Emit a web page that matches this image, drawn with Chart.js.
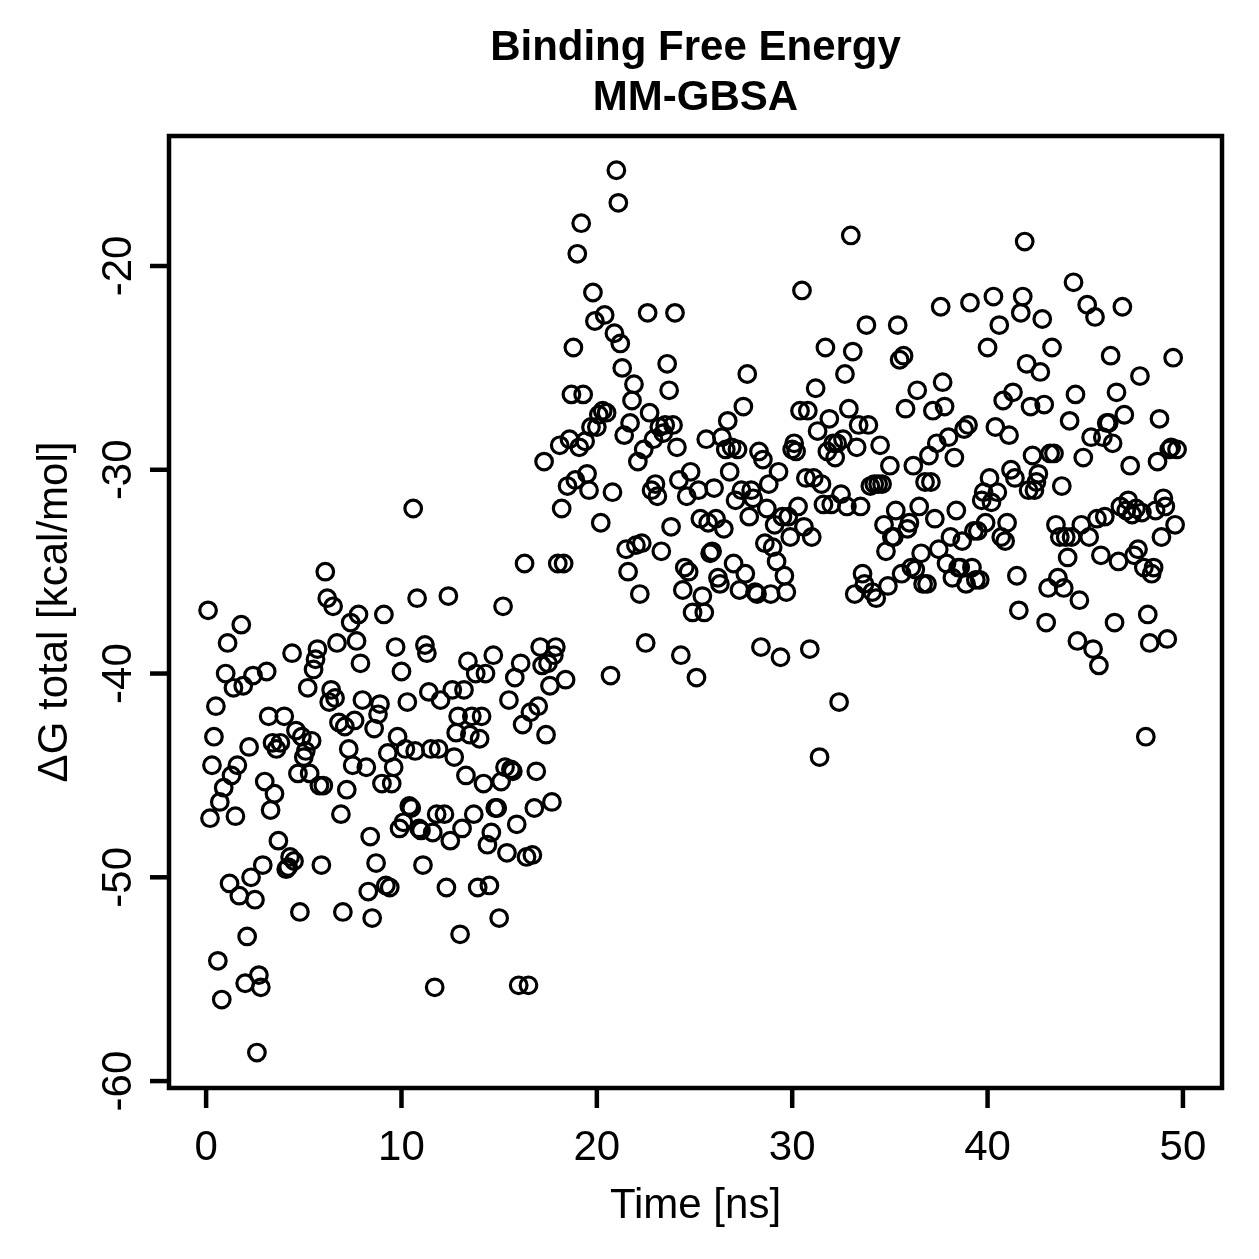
<!DOCTYPE html>
<html>
<head>
<meta charset="utf-8">
<script src="https://cdn.jsdelivr.net/npm/chart.js@4/dist/chart.umd.min.js"></script>
<style>
  html, body { margin: 0; padding: 0; background: #fff; }
  #wrap { width: 1259px; height: 1259px; }
</style>
</head>
<body>
<div id="wrap"><canvas id="mmgbsa" width="1259" height="1259"></canvas></div>
<script>
// time [ns] and total binding free energy [kcal/mol]
const time = [
  0.1, 0.2, 0.3, 0.4, 0.5, 0.6, 0.7, 0.8, 0.9, 1.0,
  1.1, 1.2, 1.3, 1.4, 1.5, 1.6, 1.7, 1.8, 1.9, 2.0,
  2.1, 2.2, 2.3, 2.4, 2.5, 2.6, 2.7, 2.8, 2.9, 3.0,
  3.1, 3.2, 3.3, 3.4, 3.5, 3.6, 3.7, 3.8, 4.0, 4.1,
  4.2, 4.3, 4.4, 4.5, 4.6, 4.7, 4.8, 4.9, 5.0, 5.1,
  5.2, 5.3, 5.4, 5.5, 5.6, 5.7, 5.8, 5.9, 6.0, 6.1,
  6.2, 6.3, 6.4, 6.5, 6.6, 6.7, 6.8, 6.9, 7.0, 7.1,
  7.2, 7.3, 7.4, 7.5, 7.6, 7.7, 7.8, 7.9, 8.0, 8.2,
  8.3, 8.4, 8.5, 8.6, 8.7, 8.8, 8.9, 9.0, 9.1, 9.2,
  9.3, 9.4, 9.5, 9.6, 9.7, 9.8, 9.9, 10.0, 10.1, 10.2,
  10.3, 10.4, 10.5, 10.6, 10.7, 10.8, 10.9, 11.0, 11.1, 11.2,
  11.3, 11.4, 11.5, 11.6, 11.7, 11.8, 11.9, 12.0, 12.2, 12.3,
  12.4, 12.5, 12.6, 12.7, 12.8, 12.9, 13.0, 13.1, 13.2, 13.3,
  13.4, 13.5, 13.6, 13.7, 13.8, 13.9, 14.0, 14.1, 14.2, 14.3,
  14.4, 14.5, 14.6, 14.7, 14.8, 14.9, 15.0, 15.1, 15.2, 15.3,
  15.4, 15.5, 15.6, 15.7, 15.8, 15.9, 16.0, 16.1, 16.2, 16.3,
  16.4, 16.5, 16.6, 16.7, 16.8, 16.9, 17.0, 17.1, 17.2, 17.3,
  17.4, 17.5, 17.6, 17.7, 17.8, 17.9, 18.0, 18.1, 18.2, 18.3,
  18.4, 18.5, 18.6, 18.7, 18.8, 18.9, 19.0, 19.1, 19.2, 19.3,
  19.4, 19.5, 19.6, 19.7, 19.8, 19.9, 20.0, 20.1, 20.2, 20.3,
  20.4, 20.5, 20.7, 20.8, 20.9, 21.0, 21.1, 21.2, 21.3, 21.4,
  21.5, 21.6, 21.7, 21.8, 21.9, 22.0, 22.1, 22.2, 22.3, 22.4,
  22.5, 22.6, 22.7, 22.8, 22.9, 23.0, 23.1, 23.2, 23.3, 23.4,
  23.5, 23.6, 23.7, 23.8, 23.9, 24.0, 24.1, 24.2, 24.3, 24.4,
  24.5, 24.6, 24.7, 24.8, 24.9, 25.1, 25.2, 25.3, 25.4, 25.5,
  25.6, 25.7, 25.8, 25.9, 26.0, 26.1, 26.2, 26.3, 26.4, 26.5,
  26.6, 26.7, 26.8, 26.9, 27.0, 27.1, 27.2, 27.3, 27.4, 27.5,
  27.6, 27.7, 27.8, 27.9, 28.0, 28.1, 28.2, 28.3, 28.4, 28.5,
  28.6, 28.7, 28.8, 28.9, 29.0, 29.1, 29.2, 29.3, 29.4, 29.5,
  29.6, 29.7, 29.8, 29.9, 30.0, 30.1, 30.2, 30.3, 30.4, 30.5,
  30.6, 30.7, 30.8, 30.9, 31.0, 31.1, 31.2, 31.3, 31.4, 31.5,
  31.6, 31.7, 31.8, 31.9, 32.0, 32.1, 32.2, 32.3, 32.4, 32.5,
  32.6, 32.7, 32.8, 32.9, 33.0, 33.1, 33.2, 33.3, 33.4, 33.5,
  33.6, 33.7, 33.8, 33.9, 34.0, 34.1, 34.2, 34.3, 34.4, 34.5,
  34.6, 34.7, 34.8, 34.9, 35.0, 35.1, 35.2, 35.3, 35.4, 35.5,
  35.6, 35.7, 35.8, 35.9, 36.0, 36.1, 36.2, 36.3, 36.4, 36.5,
  36.6, 36.7, 36.8, 36.9, 37.0, 37.1, 37.2, 37.3, 37.4, 37.5,
  37.6, 37.7, 37.8, 37.9, 38.0, 38.1, 38.2, 38.3, 38.4, 38.5,
  38.6, 38.7, 38.8, 38.9, 39.0, 39.1, 39.2, 39.3, 39.4, 39.5,
  39.6, 39.7, 39.8, 39.9, 40.0, 40.1, 40.2, 40.3, 40.4, 40.5,
  40.6, 40.7, 40.8, 40.9, 41.0, 41.1, 41.2, 41.3, 41.4, 41.5,
  41.6, 41.7, 41.8, 41.9, 42.0, 42.1, 42.2, 42.3, 42.4, 42.5,
  42.6, 42.7, 42.8, 42.9, 43.0, 43.1, 43.2, 43.3, 43.4, 43.5,
  43.6, 43.7, 43.8, 43.9, 44.0, 44.1, 44.2, 44.3, 44.4, 44.5,
  44.6, 44.7, 44.8, 44.9, 45.1, 45.2, 45.3, 45.4, 45.5, 45.6,
  45.7, 45.8, 45.9, 46.0, 46.1, 46.2, 46.3, 46.4, 46.5, 46.6,
  46.7, 46.8, 46.9, 47.0, 47.1, 47.2, 47.3, 47.4, 47.5, 47.6,
  47.7, 47.8, 47.9, 48.0, 48.1, 48.2, 48.3, 48.4, 48.5, 48.6,
  48.7, 48.8, 48.9, 49.0, 49.1, 49.2, 49.3, 49.4, 49.5, 49.6,
  49.7
];

const dG = [
  -36.9, -47.1, -44.5, -43.1, -41.6, -54.1, -46.3, -56.0, -45.6, -40.0,
  -38.5, -50.3, -45.0, -40.7, -47.0, -44.5, -50.9, -37.6, -40.6, -55.2,
  -52.9, -43.6, -50.0, -40.1, -51.1, -58.6, -54.8, -55.4, -49.4, -45.3,
  -39.9, -42.1, -46.7, -43.4, -45.9, -43.7, -48.2, -43.4, -42.1, -49.6,
  -49.5, -49.0, -39.0, -49.2, -42.8, -44.9, -51.7, -43.1, -44.1, -43.8,
  -40.7, -44.9, -43.3, -39.8, -39.3, -38.8, -45.5, -49.4, -45.5, -35.0,
  -36.3, -41.4, -40.8, -36.7, -41.2, -38.5, -42.4, -46.9, -51.7, -42.6,
  -45.7, -43.7, -37.5, -44.5, -42.3, -38.4, -37.1, -39.5, -41.3, -44.6,
  -50.7, -48.0, -52.0, -42.7, -49.3, -42.0, -41.5, -45.4, -37.1, -50.4,
  -43.9, -50.5, -45.4, -44.6, -38.7, -43.1, -47.6, -39.9, -47.3, -43.7,
  -41.4, -46.5, -46.6, -31.9, -43.8, -36.3, -47.6, -47.7, -49.4, -38.6,
  -39.0, -40.9, -43.7, -47.8, -55.4, -46.9, -43.7, -41.3, -46.9, -50.5,
  -36.2, -48.2, -40.8, -44.1, -42.9, -42.1, -52.8, -47.6, -40.8, -45.0,
  -39.4, -43.0, -42.1, -46.9, -40.0, -50.5, -43.2, -42.1, -45.4, -40.0,
  -48.4, -50.4, -47.8, -39.1, -46.6, -46.6, -52.0, -45.3, -36.7, -44.6,
  -48.8, -41.3, -44.7, -44.8, -40.2, -47.4, -55.3, -39.5, -42.5, -34.6,
  -49.0, -55.3, -41.9, -48.9, -46.6, -44.8, -41.6, -38.7, -39.6, -29.6,
  -43.0, -39.5, -40.6, -46.3, -39.1, -38.7, -34.6, -28.8, -31.9, -34.6,
  -40.3, -30.8, -28.5, -26.3, -24.0, -30.5, -19.4, -28.9, -17.9, -26.3,
  -28.6, -30.2, -31.0, -27.9, -21.3, -22.7, -27.9, -27.3, -32.6, -27.1,
  -22.4, -27.2, -40.1, -31.1, -23.3, -15.3, -16.9, -23.8, -25.0, -28.3,
  -33.9, -35.0, -27.7, -26.6, -25.8, -33.7, -29.6, -36.1, -33.6, -29.0,
  -38.5, -22.3, -27.2, -31.0, -28.5, -30.7, -31.3, -27.9, -34.0, -28.2,
  -27.8, -24.8, -26.1, -32.8, -27.8, -22.3, -28.9, -30.5, -39.1, -35.9,
  -34.8, -31.3, -35.0, -30.1, -37.0, -40.2, -31.0, -32.4, -36.2, -37.0,
  -28.5, -32.6, -34.1, -34.0, -30.9, -32.4, -35.3, -35.6, -28.4, -32.9,
  -29.0, -27.6, -30.1, -28.9, -34.6, -31.5, -29.0, -35.9, -31.0, -26.9,
  -35.1, -25.3, -32.3, -31.0, -31.4, -36.0, -36.1, -29.1, -38.7, -29.5,
  -33.6, -31.9, -30.7, -36.1, -33.8, -32.7, -34.5, -30.1, -39.2, -32.3,
  -35.2, -36.0, -32.3, -33.3, -29.0, -28.7, -29.1, -31.8, -27.1, -21.2,
  -32.8, -30.4, -27.1, -38.8, -33.3, -30.4, -26.0, -28.1, -44.1, -30.7,
  -31.7, -24.0, -29.1, -27.5, -31.7, -28.7, -29.4, -28.7, -41.4, -31.2,
  -28.5, -25.3, -31.8, -27.0, -18.5, -24.2, -36.1, -28.9, -27.8, -31.8,
  -35.1, -35.6, -22.9, -27.8, -30.8, -36.0, -30.7, -36.3, -30.7, -28.8,
  -30.7, -32.7, -34.0, -35.7, -29.8, -33.3, -33.3, -32.0, -22.9, -24.6,
  -35.1, -24.4, -27.0, -32.9, -32.6, -34.8, -29.8, -34.9, -26.1, -31.8,
  -34.1, -35.6, -30.6, -35.6, -29.3, -30.6, -27.1, -32.4, -28.7, -33.9,
  -22.0, -25.7, -26.9, -34.6, -28.4, -33.3, -35.3, -29.4, -32.0, -34.8,
  -34.8, -33.5, -28.0, -35.6, -27.8, -21.8, -34.8, -33.0, -35.4, -33.0,
  -35.4, -31.5, -31.1, -32.6, -24.0, -30.4, -31.6, -21.5, -27.9, -31.1,
  -22.9, -33.3, -26.6, -33.5, -32.6, -28.3, -30.0, -26.2, -30.4, -35.2,
  -36.9, -22.3, -21.5, -18.8, -24.8, -31.0, -26.9, -29.3, -31.0, -30.6,
  -30.2, -25.2, -22.6, -26.8, -37.5, -35.8, -29.2, -24.0, -29.2, -32.7,
  -35.3, -33.3, -30.8, -35.8, -33.3, -34.3, -27.6, -33.3, -20.8, -26.3,
  -38.4, -36.4, -32.7, -29.4, -21.9, -33.3, -28.4, -38.8, -22.5, -32.4,
  -39.6, -34.2, -28.4, -32.3, -27.7, -27.7, -24.4, -28.7, -37.5, -26.2,
  -34.5, -31.8, -22.0, -27.3, -32.0, -31.5, -29.8, -32.2, -34.2, -31.9,
  -33.9, -25.4, -32.1, -34.8, -43.1, -37.1, -38.5, -35.1, -34.8, -32.0,
  -29.6, -27.5, -33.3, -31.4, -31.8, -38.3, -29.0, -28.9, -24.5, -32.7,
  -29.0
];

const xTicks = [0, 10, 20, 30, 40, 50];
const yTicks = [-60, -50, -40, -30, -20];

const titleLines = ["Binding Free Energy", "MM-GBSA"];
const xTitle = "Time [ns]";
const yTitle = "\u0394G total [kcal/mol]";

const FONT = '"Liberation Sans", Arial, Helvetica, sans-serif';

// R style frame: box, outward ticks, rotated y labels
const baseAxes = {
  id: "baseAxes",
  afterDraw(chart) {
    const ctx = chart.ctx;
    const ca = chart.chartArea;
    const xs = chart.scales.x;
    const ys = chart.scales.y;
    const midX = (ca.left + ca.right) / 2;
    const midY = (ca.top + ca.bottom) / 2;

    ctx.save();
    ctx.strokeStyle = "#000";
    ctx.fillStyle = "#000";
    ctx.lineWidth = 4.5;
    ctx.lineCap = "butt";
    ctx.strokeRect(ca.left, ca.top, ca.right - ca.left, ca.bottom - ca.top);

    ctx.font = "42px " + FONT;
    ctx.textAlign = "center";
    ctx.textBaseline = "alphabetic";

    xTicks.forEach(v => {
      const px = xs.getPixelForValue(v);
      ctx.beginPath();
      ctx.moveTo(px, ca.bottom);
      ctx.lineTo(px, ca.bottom + 20);
      ctx.stroke();
      ctx.fillText(String(v), px, 1160);
    });

    yTicks.forEach(v => {
      const py = ys.getPixelForValue(v);
      ctx.beginPath();
      ctx.moveTo(ca.left, py);
      ctx.lineTo(ca.left - 19, py);
      ctx.stroke();
      ctx.save();
      ctx.translate(131, py);
      ctx.rotate(-Math.PI / 2);
      ctx.fillText(String(v), 0, 0);
      ctx.restore();
    });

    ctx.fillText(xTitle, midX, 1218);

    ctx.save();
    ctx.translate(67, midY);
    ctx.rotate(-Math.PI / 2);
    ctx.fillText(yTitle, 0, 0);
    ctx.restore();

    ctx.font = "bold 42px " + FONT;
    ctx.fillText(titleLines[0], midX, 60);
    ctx.fillText(titleLines[1], midX, 110);
    ctx.restore();
  }
};

new Chart(document.getElementById("mmgbsa"), {
  type: "scatter",
  data: {
    datasets: [{
      data: time.map((t, i) => ({ x: t, y: dG[i] })),
      pointStyle: "circle",
      radius: 8.3,
      pointRadius: 8.3,
      hoverRadius: 8.3,
      pointHoverRadius: 8.3,
      borderWidth: 3.2,
      pointBorderWidth: 3.2,
      borderColor: "#000",
      pointBorderColor: "#000",
      backgroundColor: "rgba(0,0,0,0)",
      pointBackgroundColor: "rgba(0,0,0,0)"
    }]
  },
  options: {
    responsive: false,
    animation: false,
    events: [],
    layout: { padding: { left: 169, top: 136, right: 37, bottom: 171 } },
    plugins: {
      legend: { display: false },
      tooltip: { enabled: false },
      title: { display: false }
    },
    scales: {
      x: { type: "linear", min: -1.9, max: 52, display: false },
      y: { type: "linear", min: -60.34, max: -13.62, display: false }
    }
  },
  plugins: [baseAxes]
});
</script>
</body>
</html>
